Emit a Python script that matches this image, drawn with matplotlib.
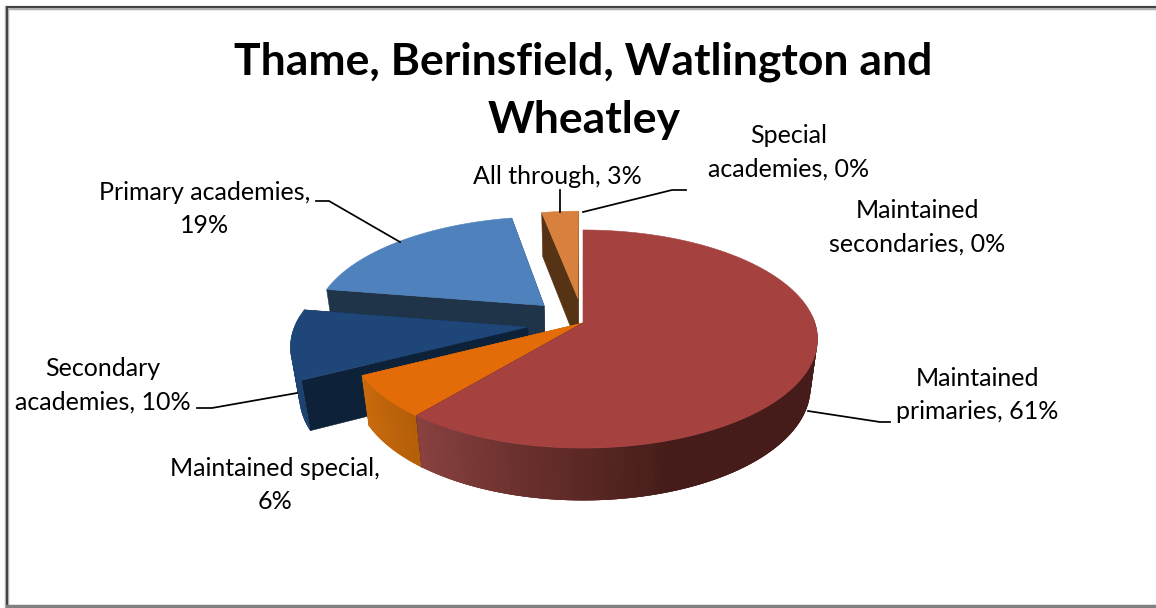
import matplotlib
matplotlib.use('Agg')
import matplotlib.pyplot as plt
import numpy as np
from matplotlib.colors import to_rgb

plt.rcParams['font.family'] = ['Lato', 'DejaVu Sans']

### Data

categories = ['Maintained primaries', 'Maintained special', 'Secondary academies',
              'Primary academies', 'All through', 'Special academies', 'Maintained secondaries']
values = [61.0, 6.4, 10.2, 19.4, 3.0, 0.0, 0.0]
explode = [0, 0, 0.24, 0.24, 0.24, 0, 0]
label_text = ['Maintained\nprimaries, 61%', 'Maintained special,\n6%', 'Secondary\nacademies, 10%',
              'Primary academies,\n19%', 'All through, 3%', 'Special\nacademies, 0%',
              'Maintained\nsecondaries, 0%']
label_pos = [(977, 395), (275, 485), (103, 385), (205, 209), (557, 177), (789, 152), (917, 227)]
leaders = [[(890, 422), (880, 422), (808, 411)],
           [(197, 408), (212, 408), (297, 393)],
           [(316, 201), (329, 201), (400, 242)],
           [(560, 190), (560, 212)],
           [(686, 190), (672, 190), (583, 212)]]

top_col = ['#A54240', '#E36C09', '#1F4678', '#4F81BD', '#D8813E', '#D8813E', '#A54240']
cut_col = ['#451C19', '#B85F0C', '#0D2239', '#1F3349', '#573315', '#573315', '#451C19']
wall_from = ['#8A4240', '#CB6C0C', '#1F4A80', '#1F3349', '#573315', '#573315', '#451C19']
wall_to = ['#451C19', '#B35E0A', '#1B3F6C', '#1F3349', '#573315', '#573315', '#451C19']
wall_fade = [3.7, 1, 1, 1, 1, 1, 1]

# projection of the tilted disc, in pixels
cx, cy = 583, 323
rx, ry, depth = 232, 106.7, 50
persp, persp_z = 0.147, 0.03


def proj(u, v, z=0):
    w = 1 - persp * v + persp_z * z
    return cx + rx * u / w, cy + (ry * v + depth * z) / w


fig = plt.figure(figsize=(11.56, 6.08), dpi=100)
ax = fig.add_axes([0, 0, 1, 1])
ax.set_xlim(0, 1156)
ax.set_ylim(608, 0)
ax.axis('off')

### Chart frame

ax.plot([1156, 7, 7], [8, 8, 606], color='#B0B0B0', lw=3.2, solid_joinstyle='miter', zorder=0)
ax.plot([1156, 7, 7], [7, 7, 606], color='#404040', lw=1.4, solid_joinstyle='miter', zorder=0)
ax.plot([7, 1156], [606, 606], color='#808080', lw=2.5, zorder=0)

### Slices, back to front

total = sum(values)
ends = np.cumsum(values) / total * 360
starts = ends - np.array(values) / total * 360

for i in [6, 5, 4, 3, 2, 1, 0]:
    if values[i] == 0:
        continue
    a0, a1 = np.radians(starts[i]), np.radians(ends[i])
    mid = (a0 + a1) / 2
    ox, oy = explode[i] * np.sin(mid), -explode[i] * np.cos(mid)
    a = np.linspace(a0, a1, 160)
    u = ox + np.sin(a)
    v = oy - np.cos(a)

    # radial cut faces
    for edge in (a0, a1):
        eu, ev = ox + np.sin(edge), oy - np.cos(edge)
        px = [proj(ox, oy), proj(eu, ev), proj(eu, ev, 1), proj(ox, oy, 1)]
        ax.fill(*zip(*px), color=cut_col[i], lw=0.4, zorder=2 * (7 - i))

    # outer wall, only the part that faces the viewer; strips overlap to hide seams
    c0, c1 = np.array(to_rgb(wall_from[i])), np.array(to_rgb(wall_to[i]))
    for j in range(len(a) - 1):
        if -np.cos(a[j]) < -0.1:
            continue
        t = np.clip((a1 - a[j]) / (a1 - a0) * wall_fade[i], 0, 1)
        col = c0 + (c1 - c0) * t
        k = min(j + 3, len(a) - 1)
        px = [proj(u[j], v[j]), proj(u[k], v[k]), proj(u[k], v[k], 1), proj(u[j], v[j], 1)]
        ax.fill(*zip(*px), color=col, lw=0, zorder=2 * (7 - i))

    # top face
    tx, ty = proj(np.r_[ox, u], np.r_[oy, v])
    ax.fill(tx, ty, color=top_col[i], lw=0.4, zorder=2 * (7 - i) + 1)

### Leader lines and labels

for line in leaders:
    ax.plot(*zip(*line), color='black', lw=1.25, solid_joinstyle='miter', zorder=30)

for txt, (x, y) in zip(label_text, label_pos):
    ax.text(x, y, txt, ha='center', va='center', fontsize=18, linespacing=1.55, color='black', zorder=31)

ax.text(583, 62, 'Thame, Berinsfield, Watlington and', ha='center', va='center',
        fontsize=32, fontweight='bold', color='black', zorder=31)
ax.text(584, 120, 'Wheatley', ha='center', va='center',
        fontsize=32, fontweight='bold', color='black', zorder=31)

fig.savefig('out.png', dpi=100)
plt.close(fig)
